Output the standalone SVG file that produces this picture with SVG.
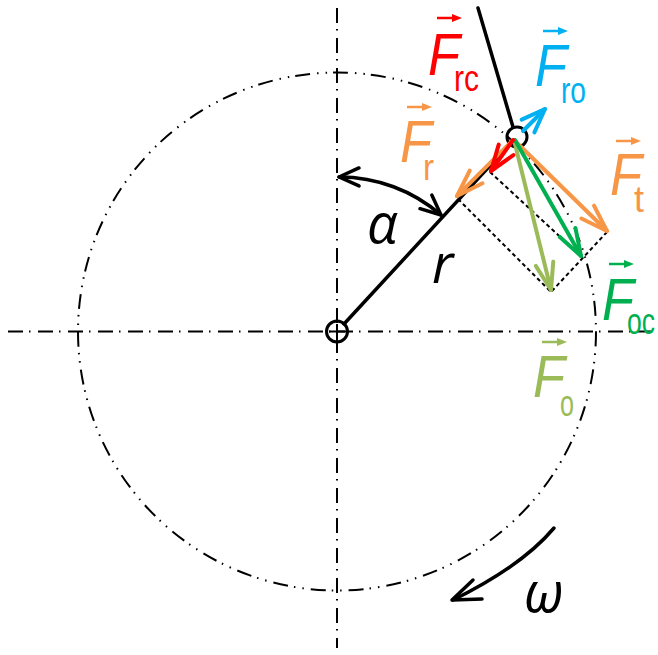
<svg xmlns="http://www.w3.org/2000/svg" xmlns:xlink="http://www.w3.org/1999/xlink" width="658" height="655" viewBox="0 0 658 655">
<style>
.axis{fill:none;stroke:#000;stroke-width:2;stroke-dasharray:15 6 1.5 7.5}
.circ{fill:none;stroke:#000;stroke-width:2;stroke-dasharray:15 7 1.5 7 1.5 6}
.blk{fill:none;stroke:#000;stroke-width:3.5;stroke-linecap:round;stroke-linejoin:round}
.dsh{fill:none;stroke:#000;stroke-width:2;stroke-dasharray:4 3}
.force{fill:none;stroke-width:4;stroke-linecap:round}
.F{font-family:"Liberation Sans",Arial,sans-serif;font-style:italic;font-size:60px}
.sub{font-family:"Liberation Sans",Arial,sans-serif;font-size:36px}
.sym{font-family:"Open Sans","DejaVu Sans",sans-serif;font-style:italic;font-size:54px;fill:#000}
.red{fill:#FF0000;stroke:#FF0000}
.blue{fill:#00B0F0;stroke:#00B0F0}
.orange{fill:#F79646;stroke:#F79646}
.green{fill:#00B050;stroke:#00B050}
.lgreen{fill:#9BBB59;stroke:#9BBB59}
text{stroke:none}
</style>
<defs>
<marker id="mk" markerUnits="userSpaceOnUse" viewBox="-24 -12 28 24" markerWidth="28" markerHeight="24" refX="0" refY="0" orient="auto-start-reverse"><path d="M-20,-9 L0,0 L-20,9" fill="none" stroke="#000" stroke-width="3.5" stroke-linecap="round" stroke-linejoin="round"/></marker>
<marker id="mr" markerUnits="userSpaceOnUse" viewBox="-30 -14 34 28" markerWidth="34" markerHeight="28" refX="0" refY="0" orient="auto"><path d="M-26,-9 L0,0 L-26,9" fill="none" stroke="#FF0000" stroke-width="4" stroke-linecap="round" stroke-linejoin="round"/></marker>
<marker id="mb" markerUnits="userSpaceOnUse" viewBox="-30 -14 34 28" markerWidth="34" markerHeight="28" refX="0" refY="0" orient="auto"><path d="M-24,-9 L0,0 L-24,9" fill="none" stroke="#00B0F0" stroke-width="4" stroke-linecap="round" stroke-linejoin="round"/></marker>
<marker id="mo" markerUnits="userSpaceOnUse" viewBox="-30 -14 34 28" markerWidth="34" markerHeight="28" refX="0" refY="0" orient="auto"><path d="M-27,-9 L0,0 L-27,9" fill="none" stroke="#F79646" stroke-width="4" stroke-linecap="round" stroke-linejoin="round"/></marker>
<marker id="mg" markerUnits="userSpaceOnUse" viewBox="-30 -14 34 28" markerWidth="34" markerHeight="28" refX="0" refY="0" orient="auto"><path d="M-27,-9 L0,0 L-27,9" fill="none" stroke="#00B050" stroke-width="4" stroke-linecap="round" stroke-linejoin="round"/></marker>
<marker id="ml" markerUnits="userSpaceOnUse" viewBox="-30 -14 34 28" markerWidth="34" markerHeight="28" refX="0" refY="0" orient="auto"><path d="M-27,-9 L0,0 L-27,9" fill="none" stroke="#9BBB59" stroke-width="4" stroke-linecap="round" stroke-linejoin="round"/></marker>
<g id="vec"><line x1="0" y1="0" x2="17" y2="0" stroke-width="2.5"/><polygon points="15,-4 25,0 15,4" stroke="none"/></g>
</defs>

<g id="axes">
<line class="axis" x1="8" y1="331.5" x2="652" y2="331.5"/>
<line class="axis" x1="337" y1="8" x2="337" y2="648"/>
<circle class="circ" cx="337" cy="331.5" r="259"/>
</g>

<g id="center">
<circle cx="337" cy="331.5" r="10.5" fill="none" stroke="#000" stroke-width="3"/>
<line x1="329" y1="331.5" x2="345" y2="331.5" stroke="#000" stroke-width="2"/>
<line x1="337" y1="324" x2="337" y2="339" stroke="#000" stroke-width="2"/>
</g>

<g id="rod">
<line class="blk" x1="344" y1="324" x2="510" y2="144"/>
<line class="blk" x1="478" y1="8" x2="513" y2="127"/>
<circle cx="517" cy="137" r="10" fill="none" stroke="#000" stroke-width="3"/>
</g>

<g id="connectors">
<line class="dsh" x1="458" y1="199" x2="551" y2="292"/>
<line class="dsh" x1="490" y1="172" x2="583" y2="258"/>
<line class="dsh" x1="607" y1="232" x2="551" y2="292"/>
<path class="blk" d="M339,177 A155,155 0 0,1 441,215" marker-start="url(#mk)" marker-end="url(#mk)"/>
<path class="blk" d="M554,528 Q522,566 453,600"/>
<polyline class="blk" points="473,580 452,600 482,599"/>
</g>

<g id="forces">
<line class="force" stroke="#00B0F0" x1="523" y1="131" x2="545" y2="109" marker-end="url(#mb)"/>
<line class="force" stroke="#F79646" x1="514" y1="140" x2="607" y2="231" marker-end="url(#mo)"/>
<line class="force" stroke="#F79646" x1="512" y1="141" x2="457" y2="196" marker-end="url(#mo)"/>
<line class="force" stroke="#9BBB59" x1="514" y1="140" x2="551" y2="290" marker-end="url(#ml)"/>
<line class="force" stroke="#00B050" x1="515" y1="140" x2="581" y2="256" marker-end="url(#mg)"/>
<line class="force" stroke="#FF0000" x1="513" y1="140" x2="491" y2="171" marker-end="url(#mr)"/>
</g>

<g id="label-Frc" class="red">
<use xlink:href="#vec" x="437" y="18"/>
<text class="F" x="428" y="75" textLength="32" lengthAdjust="spacingAndGlyphs">F</text>
<text class="sub" x="454" y="91" textLength="25" lengthAdjust="spacingAndGlyphs">rc</text>
</g>
<g id="label-Fro" class="blue">
<use xlink:href="#vec" x="543" y="31"/>
<text class="F" x="535" y="86" textLength="32" lengthAdjust="spacingAndGlyphs">F</text>
<text class="sub" x="561" y="103" textLength="25" lengthAdjust="spacingAndGlyphs">ro</text>
</g>
<g id="label-Fr" class="orange">
<use xlink:href="#vec" x="407" y="107"/>
<text class="F" x="400" y="162" textLength="32" lengthAdjust="spacingAndGlyphs">F</text>
<text class="sub" x="423" y="180" textLength="11" lengthAdjust="spacingAndGlyphs">r</text>
</g>
<g id="label-Ft" class="orange">
<use xlink:href="#vec" x="616" y="141"/>
<text class="F" x="610" y="195" textLength="32" lengthAdjust="spacingAndGlyphs">F</text>
<text class="sub" x="634" y="212" textLength="10" lengthAdjust="spacingAndGlyphs">t</text>
</g>
<g id="label-Foc" class="green">
<use xlink:href="#vec" x="609" y="264"/>
<text class="F" x="602" y="320" textLength="32" lengthAdjust="spacingAndGlyphs">F</text>
<text class="sub" x="627" y="334" textLength="28" lengthAdjust="spacingAndGlyphs">oc</text>
</g>
<g id="label-Fo" class="lgreen">
<use xlink:href="#vec" x="542" y="342"/>
<text class="F" x="533" y="397" textLength="32" lengthAdjust="spacingAndGlyphs">F</text>
<text class="sub" x="560" y="416" textLength="14" lengthAdjust="spacingAndGlyphs">o</text>
</g>

<g id="symbols">
<text class="sym" x="367" y="243">α</text>
<text class="sym" x="432" y="283">r</text>
<text class="sym" x="524" y="612">ω</text>
</g>
</svg>
